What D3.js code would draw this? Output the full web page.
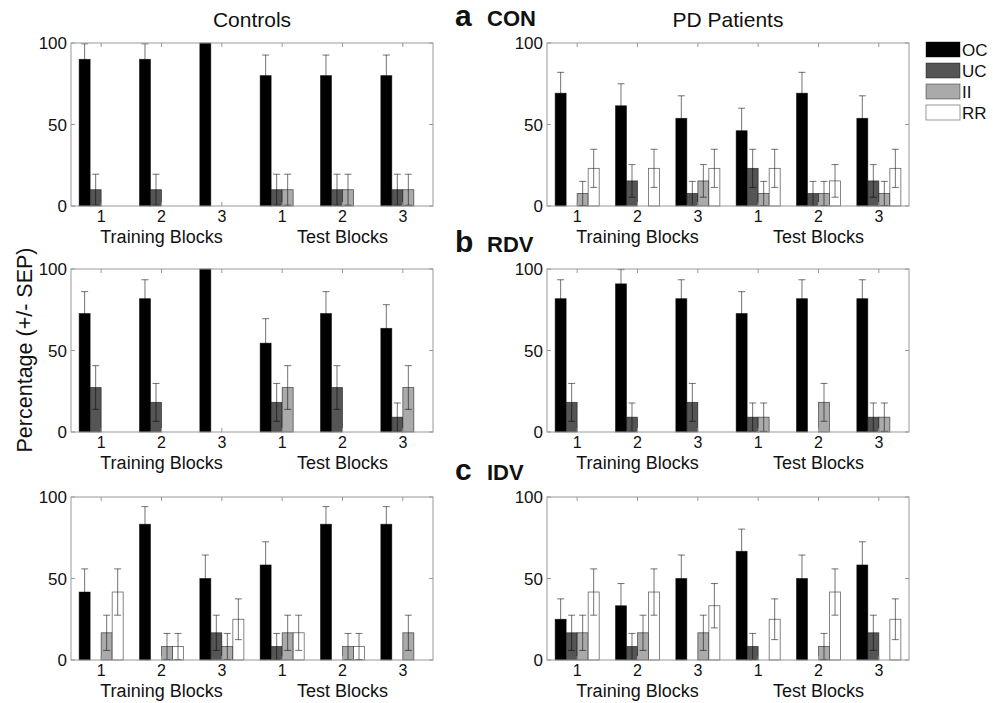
<!DOCTYPE html>
<html>
<head>
<meta charset="utf-8">
<script src="https://cdn.jsdelivr.net/npm/d3@7"></script>
<style>
  html, body { margin: 0; padding: 0; background: #fff; }
  svg { display: block; font-family: "Liberation Sans", Arial, Helvetica, sans-serif; }
</style>
</head>
<body>
<svg id="chart" width="993" height="703"></svg>
<script>
// ---------- data ----------
const blocks = ["1", "2", "3", "1", "2", "3"];
const series = ["OC", "UC", "II", "RR"];
const yTicks = [0, 50, 100];
const columnTitles = ["Controls", "PD Patients"];
const rowLetters = ["a", "b", "c"];
const rowNames = ["CON", "RDV", "IDV"];
const blockGroupLabels = ["Training Blocks", "Test Blocks"];
const yLabel = "Percentage (+/- SEP)";

// rows: series OC, UC, II, RR; columns: the six blocks
const conControlsVals = [[90, 90, 100, 80, 80, 80], [10, 10, 0, 10, 10, 10], [0, 0, 0, 10, 10, 10], [0, 0, 0, 0, 0, 0]];
const conControlsErr  = [[9.5, 9.5, 0, 12.6, 12.6, 12.6], [9.5, 9.5, 0, 9.5, 9.5, 9.5], [0, 0, 0, 9.5, 9.5, 9.5], [0, 0, 0, 0, 0, 0]];
const conPatientsVals = [[69.2, 61.5, 53.8, 46.2, 69.2, 53.8], [0, 15.4, 7.7, 23.1, 7.7, 15.4], [7.7, 0, 15.4, 7.7, 7.7, 7.7], [23.1, 23.1, 23.1, 23.1, 15.4, 23.1]];
const conPatientsErr  = [[12.8, 13.5, 13.8, 13.8, 12.8, 13.8], [0, 10, 7.4, 11.7, 7.4, 10], [7.4, 0, 10, 7.4, 7.4, 7.4], [11.7, 11.7, 11.7, 11.7, 10, 11.7]];
const rdvControlsVals = [[72.7, 81.8, 100, 54.5, 72.7, 63.6], [27.3, 18.2, 0, 18.2, 27.3, 9.1], [0, 0, 0, 27.3, 0, 27.3], [0, 0, 0, 0, 0, 0]];
const rdvControlsErr  = [[13.4, 11.6, 0, 15, 13.4, 14.5], [13.4, 11.6, 0, 11.6, 13.4, 8.7], [0, 0, 0, 13.4, 0, 13.4], [0, 0, 0, 0, 0, 0]];
const rdvPatientsVals = [[81.8, 90.9, 81.8, 72.7, 81.8, 81.8], [18.2, 9.1, 18.2, 9.1, 0, 9.1], [0, 0, 0, 9.1, 18.2, 9.1], [0, 0, 0, 0, 0, 0]];
const rdvPatientsErr  = [[11.6, 8.7, 11.6, 13.4, 11.6, 11.6], [11.6, 8.7, 11.6, 8.7, 0, 8.7], [0, 0, 0, 8.7, 11.6, 8.7], [0, 0, 0, 0, 0, 0]];
const idvControlsVals = [[41.7, 83.3, 50, 58.3, 83.3, 83.3], [0, 0, 16.7, 8.3, 0, 0], [16.7, 8.3, 8.3, 16.7, 8.3, 16.7], [41.7, 8.3, 25, 16.7, 8.3, 0]];
const idvControlsErr  = [[14.2, 10.8, 14.4, 14.2, 10.8, 10.8], [0, 0, 10.8, 8, 0, 0], [10.8, 8, 8, 10.8, 8, 10.8], [14.2, 8, 12.5, 10.8, 8, 0]];
const idvPatientsVals = [[25, 33.3, 50, 66.7, 50, 58.3], [16.7, 8.3, 0, 8.3, 0, 16.7], [16.7, 16.7, 16.7, 0, 8.3, 0], [41.7, 41.7, 33.3, 25, 41.7, 25]];
const idvPatientsErr  = [[12.5, 13.6, 14.4, 13.6, 14.4, 14.2], [10.8, 8, 0, 8, 0, 10.8], [10.8, 10.8, 10.8, 0, 8, 0], [14.2, 14.2, 13.6, 12.5, 14.2, 12.5]];

const seriesColors = ["#000000", "#555555", "#aaaaaa", "#ffffff"];

// ---------- layout ----------
const svg = d3.select("#chart");
const colX = [71, 547];
const rowY = [43, 269, 497];
const panelW = 362, panelH = 163;

const panels = [
  { r: 0, c: 0, vals: conControlsVals, errs: conControlsErr },
  { r: 0, c: 1, vals: conPatientsVals, errs: conPatientsErr },
  { r: 1, c: 0, vals: rdvControlsVals, errs: rdvControlsErr },
  { r: 1, c: 1, vals: rdvPatientsVals, errs: rdvPatientsErr },
  { r: 2, c: 0, vals: idvControlsVals, errs: idvControlsErr },
  { r: 2, c: 1, vals: idvPatientsVals, errs: idvPatientsErr }
];

const y = d3.scaleLinear().domain([0, 100]).range([panelH, 0]);
const x = d3.scaleBand().domain(d3.range(blocks.length)).range([0, panelW])
  .paddingInner(0.27).paddingOuter(0.135);
const xs = d3.scaleBand().domain(series).range([0, x.bandwidth()]).padding(0);

panels.forEach(p => {
  const g = svg.append("g").attr("transform", `translate(${colX[p.c]},${rowY[p.r]})`);

  const data = [];
  p.vals.forEach((row, si) => row.forEach((v, bi) => {
    data.push({ s: series[si], si, bi, v, e: p.errs[si][bi] });
  }));

  // bars
  g.selectAll("rect.bar").data(data.filter(d => d.v > 0)).join("rect")
    .attr("class", "bar")
    .attr("x", d => x(d.bi) + xs(d.s))
    .attr("y", d => y(d.v))
    .attr("width", xs.bandwidth())
    .attr("height", d => y(0) - y(d.v))
    .attr("fill", d => seriesColors[d.si])
    .attr("stroke", "#000").attr("stroke-opacity", 0.6).attr("stroke-width", 0.8);

  // error bars
  const eb = data.filter(d => d.v > 0 && d.e > 0);
  const cap = 3.5;
  const eg = g.append("g").attr("stroke", "#000").attr("stroke-opacity", 0.55).attr("stroke-width", 1).attr("fill", "none");
  eb.forEach(d => {
    const cx = x(d.bi) + xs(d.s) + xs.bandwidth() / 2;
    const lo = y(Math.max(0, d.v - d.e)), hi = y(Math.min(100, d.v + d.e));
    eg.append("line").attr("x1", cx).attr("x2", cx).attr("y1", lo).attr("y2", hi);
    eg.append("line").attr("x1", cx - cap).attr("x2", cx + cap).attr("y1", hi).attr("y2", hi);
    eg.append("line").attr("x1", cx - cap).attr("x2", cx + cap).attr("y1", lo).attr("y2", lo);
  });

  // frame
  g.append("rect").attr("x", 0).attr("y", 0).attr("width", panelW).attr("height", panelH)
    .attr("fill", "none").attr("stroke", "#999").attr("stroke-width", 1);

  // inward ticks
  const tg = g.append("g").attr("stroke", "#999").attr("stroke-width", 1);
  yTicks.forEach(t => {
    tg.append("line").attr("x1", 0).attr("x2", 4).attr("y1", y(t)).attr("y2", y(t));
    tg.append("line").attr("x1", panelW).attr("x2", panelW - 4).attr("y1", y(t)).attr("y2", y(t));
  });
  blocks.forEach((b, i) => {
    const cx = x(i) + x.bandwidth() / 2;
    tg.append("line").attr("x1", cx).attr("x2", cx).attr("y1", 0).attr("y2", 4);
    tg.append("line").attr("x1", cx).attr("x2", cx).attr("y1", panelH).attr("y2", panelH - 4);
  });

  // y tick labels
  g.selectAll("text.yt").data(yTicks).join("text").attr("class", "yt")
    .attr("x", -4).attr("y", d => y(d)).attr("dy", "0.36em")
    .attr("text-anchor", "end").attr("font-size", 17).attr("fill", "#111")
    .text(d => d);

  // x tick labels
  g.selectAll("text.xt").data(blocks).join("text").attr("class", "xt")
    .attr("x", (d, i) => x(i) + x.bandwidth() / 2).attr("y", panelH + 16)
    .attr("text-anchor", "middle").attr("font-size", 16).attr("fill", "#111")
    .text(d => d);

  // group labels
  blockGroupLabels.forEach((lab, k) => {
    const i = k * 3 + 1;
    g.append("text").attr("x", x(i) + x.bandwidth() / 2).attr("y", panelH + 36.5)
      .attr("text-anchor", "middle").attr("font-size", 18).attr("fill", "#111").text(lab);
  });
});

// column titles
columnTitles.forEach((t, c) => {
  svg.append("text").attr("x", colX[c] + panelW / 2).attr("y", 27)
    .attr("text-anchor", "middle").attr("font-size", 21).attr("fill", "#111").text(t);
});

// row letters and names
rowLetters.forEach((l, r) => {
  const base = rowY[r] - 17;
  svg.append("text").attr("x", 455).attr("y", base).attr("font-size", 30)
    .attr("font-weight", "bold").attr("fill", "#111").text(l);
  svg.append("text").attr("x", 487).attr("y", base).attr("font-size", 22)
    .attr("font-weight", "bold").attr("fill", "#111").text(rowNames[r]);
});

// y axis label
svg.append("text").attr("transform", "translate(32,350) rotate(-90)")
  .attr("text-anchor", "middle").attr("font-size", 21.5).attr("fill", "#111").text(yLabel);

// legend
const lg = svg.append("g").attr("transform", "translate(926,42)");
series.forEach((s, i) => {
  lg.append("rect").attr("x", 0).attr("y", i * 21).attr("width", 34).attr("height", 15)
    .attr("fill", seriesColors[i]).attr("stroke", "#000").attr("stroke-opacity", 0.5).attr("stroke-width", 0.8);
  lg.append("text").attr("x", 36).attr("y", i * 21 + 7.5).attr("dy", "0.36em")
    .attr("font-size", 17).attr("fill", "#111").text(s);
});
</script>
</body>
</html>
